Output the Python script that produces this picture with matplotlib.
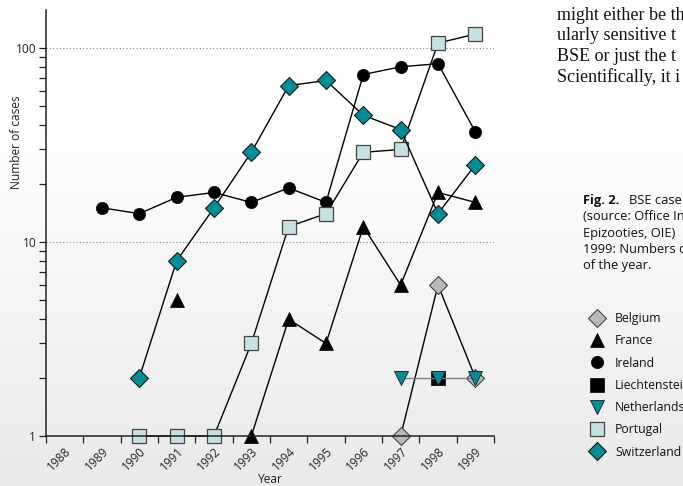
import numpy as np
import matplotlib
matplotlib.use("Agg")
import matplotlib.pyplot as plt
from matplotlib.lines import Line2D
from matplotlib.ticker import FixedLocator, FuncFormatter, NullFormatter, LogLocator

# BSE cases per year (log scale); NaN = no case reported
years = [1988, 1989, 1990, 1991, 1992, 1993, 1994, 1995, 1996, 1997, 1998, 1999]
nan = np.nan
belgium = [nan, nan, nan, nan, nan, nan, nan, nan, nan, 1, 6, 2]
france = [nan, nan, nan, 5, nan, 1, 4, 3, 12, 6, 18, 16]
ireland = [nan, 15, 14, 17, 18, 16, 19, 16, 73, 80, 83, 37]
liechtenstein = [nan, nan, nan, nan, nan, nan, nan, nan, nan, nan, 2, nan]
netherlands = [nan, nan, nan, nan, nan, nan, nan, nan, nan, 2, 2, 2]
portugal = [nan, nan, 1, 1, 1, 3, 12, 14, 29, 30, 106, 118]
switzerland = [nan, nan, 2, 8, 15, 29, 64, 68, 45, 38, 14, 25]

SANS = ["Open Sans", "DejaVu Sans"]
plt.rcParams["font.family"] = SANS

W, H = 683, 486
fig = plt.figure(figsize=(W / 100, H / 100), dpi=100)

# soft vertical page shading: white at the top, light grey towards the bottom
bg = fig.add_axes([0, 0, 1, 1], zorder=0)
bg.axis("off")
rows = np.arange(H, dtype=float)
t = np.clip((rows - 110) / (H - 110), 0, 1)
shade = 1.0 - 0.085 * t ** 1.1
img = np.repeat(shade[:, None], 4, axis=1)
bg.imshow(np.dstack([img, img, img]), aspect="auto", extent=[0, 1, 0, 1],
          origin="upper", interpolation="bilinear")
bg.set_xlim(0, 1)
bg.set_ylim(0, 1)

ax = fig.add_axes([46 / W, 50 / H, 448 / W, 426 / H], zorder=2)
ax.set_facecolor("none")
ax.set_yscale("log")
ax.set_xlim(1987.5, 1999.5)
ax.set_ylim(1, 157)

TEAL = "#008e96"
PALE = "#c7e0e1"
GREY = "#b9b9b9"

series = [
    ("Belgium", belgium, dict(marker="D", ms=9.2, mfc=GREY, mec="#444444", mew=0.8), "black"),
    ("France", france, dict(marker="^", ms=10.5, mfc="black", mec="black", mew=0.5), "black"),
    ("Ireland", ireland, dict(marker="o", ms=8.8, mfc="black", mec="black", mew=0.5), "black"),
    ("Liechtenstein", liechtenstein, dict(marker="s", ms=10.5, mfc="black", mec="black", mew=0.5), "black"),
    ("Portugal", portugal, dict(marker="s", ms=10.2, mfc=PALE, mec="#444444", mew=0.9), "black"),
    ("Switzerland", switzerland, dict(marker="D", ms=9.2, mfc=TEAL, mec="#1a1a1a", mew=0.8), "black"),
    ("Netherlands", netherlands, dict(marker="v", ms=10.5, mfc=TEAL, mec="#1a1a1a", mew=0.6), "#808080"),
]

handles = {}
for name, vals, mk, lc in series:
    ax.plot(years, vals, color=lc, lw=1.0, clip_on=False, **mk)
    handles[name] = Line2D([], [], linestyle="none", **mk)

# axes styling
for s in ("top", "right"):
    ax.spines[s].set_visible(False)
for s in ("left", "bottom"):
    ax.spines[s].set_linewidth(1.1)
    ax.spines[s].set_color("#222222")

ax.yaxis.set_major_locator(FixedLocator([1, 10, 100]))
ax.yaxis.set_minor_locator(LogLocator(base=10, subs=np.arange(2, 10)))
ax.yaxis.set_major_formatter(FuncFormatter(lambda v, p: f"{v:g}"))
ax.yaxis.set_minor_formatter(NullFormatter())
ax.tick_params(axis="y", which="both", length=5, width=0.9, color="#222222",
               labelsize=8.6, labelcolor="#222222", pad=2)
ax.yaxis.grid(True, which="major", linestyle=(0, (1, 2)), color="#8a8a8a", lw=0.8)

ax.set_xticks(np.arange(1987.5, 1999.6, 1.0))
ax.set_xticklabels([])
ax.set_xticks(years, minor=True)
ax.set_xticklabels([str(y) for y in years], minor=True, rotation=45,
                   ha="right", rotation_mode="anchor", fontsize=8.6, color="#222222")
ax.tick_params(axis="x", which="major", length=5, width=0.9, color="#222222")
ax.tick_params(axis="x", which="minor", length=0, pad=6)

ax.set_ylabel("Number of cases", fontsize=8.6, color="#222222")
ax.yaxis.set_label_coords(-0.052, 0.69)
fig.text(270 / W, 1 - 479 / H, "Year", ha="center", va="center", fontsize=8.6, color="#222222")

# running body text (serif)
body = ["might either be th", "ularly sensitive t", "BSE or just the t", "Scientifically, it i"]
for i, line in enumerate(body):
    fig.text(557 / W, 1 - (15 + 20.8 * i) / H, line, ha="left", va="center",
             family=["Liberation Serif"], fontsize=13, color="#111111")

# figure caption
cap_y = [200, 216.5, 233, 249.5, 266]
fig.text(583 / W, 1 - cap_y[0] / H, "Fig. 2.", ha="left", va="center",
         fontsize=9.3, fontweight="bold", color="#111111")
fig.text(629 / W, 1 - cap_y[0] / H, "BSE case", ha="left", va="center",
         fontsize=9.3, color="#111111")
for yy, line in zip(cap_y[1:], ["(source: Office In", "Epizooties, OIE)",
                                "1999: Numbers o", "of the year."]):
    fig.text(583 / W, 1 - yy / H, line, ha="left", va="center",
             fontsize=9.3, color="#111111")

order = ["Belgium", "France", "Ireland", "Liechtenstein", "Netherlands", "Portugal", "Switzerland"]
leg = fig.legend([handles[n] for n in order], order, loc="upper left",
                 bbox_to_anchor=(591 / W, 1 - 312 / H), bbox_transform=fig.transFigure,
                 frameon=False, fontsize=8.8, handlelength=1.0, handletextpad=0.97,
                 labelspacing=0.76, borderpad=0, borderaxespad=0)
for t in leg.get_texts():
    t.set_color("#111111")

fig.savefig("out.png", dpi=100)
